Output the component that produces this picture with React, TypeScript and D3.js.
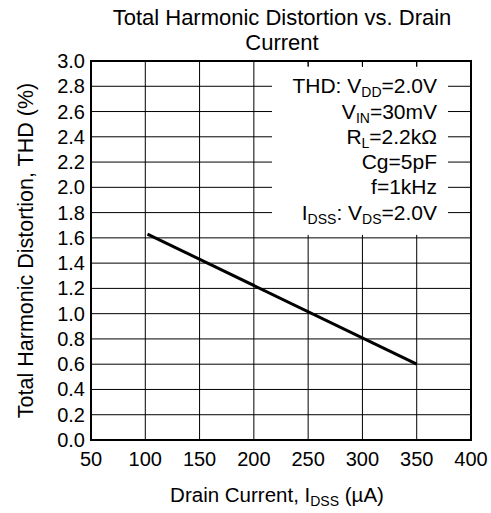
import React, { useEffect, useRef } from "react";
import * as d3 from "d3";

// THD vs drain current
const xTicks = [50, 100, 150, 200, 250, 300, 350, 400];
const yTicks = [0, 0.2, 0.4, 0.6, 0.8, 1.0, 1.2, 1.4, 1.6, 1.8, 2.0, 2.2, 2.4, 2.6, 2.8, 3.0];
const drainCurrent = [102, 350];
const thd = [1.63, 0.6];
const conditions = [
  [["THD: V", ""], ["DD", "sub"], ["=2.0V", ""]],
  [["V", ""], ["IN", "sub"], ["=30mV", ""]],
  [["R", ""], ["L", "sub"], ["=2.2kΩ", ""]],
  [["Cg=5pF", ""]],
  [["f=1kHz", ""]],
  [["I", ""], ["DSS", "sub"], [": V", ""], ["DS", "sub"], ["=2.0V", ""]],
];
const conditionLevels = [2.8, 2.6, 2.4, 2.2, 2.0, 1.8];

const W = 491;
const H = 513;
const margin = { top: 61, right: 20, bottom: 73, left: 91 };

const App = () => {
  const ref = useRef<SVGSVGElement>(null);

  useEffect(() => {
    const svg = d3.select(ref.current);
    svg.selectAll("*").remove();
    const innerW = W - margin.left - margin.right;
    const innerH = H - margin.top - margin.bottom;
    const font = "'Liberation Sans', Arial, sans-serif";

    const x = d3.scaleLinear().domain([50, 400]).range([0, innerW]);
    const y = d3.scaleLinear().domain([0, 3]).range([innerH, 0]);

    const g = svg.append("g").attr("transform", `translate(${margin.left},${margin.top})`);

    // grid
    g.selectAll(".vgrid").data(xTicks.slice(1, -1)).join("line")
      .attr("x1", d => x(d)).attr("x2", d => x(d))
      .attr("y1", 0).attr("y2", innerH)
      .attr("stroke", "#000").attr("stroke-width", 1);
    g.selectAll(".hgrid").data(yTicks.slice(1, -1)).join("line")
      .attr("x1", 0).attr("x2", innerW)
      .attr("y1", d => y(d)).attr("y2", d => y(d))
      .attr("stroke", "#000").attr("stroke-width", 1);

    // white box behind the test conditions
    g.append("rect")
      .attr("x", 181).attr("y", 5)
      .attr("width", 176).attr("height", y(1.6) - 8)
      .attr("fill", "#fff");

    // border
    g.append("rect")
      .attr("width", innerW).attr("height", innerH)
      .attr("fill", "none").attr("stroke", "#000").attr("stroke-width", 2);

    // small ticks at top inside the white box
    g.selectAll(".topTick").data([250, 300, 350]).join("line")
      .attr("x1", d => x(d)).attr("x2", d => x(d))
      .attr("y1", 0).attr("y2", 6)
      .attr("stroke", "#000").attr("stroke-width", 1);

    // data line
    const line = d3.line<number>().x((d, i) => x(drainCurrent[i])).y(d => y(d));
    g.append("path").datum(thd).attr("d", line)
      .attr("fill", "none").attr("stroke", "#000").attr("stroke-width", 3);

    // tick labels
    g.selectAll(".xl").data(xTicks).join("text")
      .attr("x", d => x(d)).attr("y", innerH + 26)
      .attr("text-anchor", "middle")
      .style("font-family", font).style("font-size", "20px")
      .text(d => d);
    g.selectAll(".yl").data(yTicks).join("text")
      .attr("x", -6).attr("y", d => y(d) + 7)
      .attr("text-anchor", "end")
      .style("font-family", font).style("font-size", "20px")
      .text(d => d.toFixed(1));

    // conditions
    conditions.forEach((parts, i) => {
      const t = g.append("text")
        .attr("x", 346).attr("y", y(conditionLevels[i]) + 7)
        .attr("text-anchor", "end")
        .style("font-family", font).style("font-size", "21px");
      parts.forEach(([s, kind], j) => {
        const prev = j > 0 ? parts[j - 1][1] : "";
        const ts = t.append("tspan").text(s);
        if (kind === "sub") ts.attr("dy", 4).style("font-size", "14px");
        else if (prev === "sub") ts.attr("dy", -4);
      });
    });

    // titles
    svg.append("text").attr("x", 282).attr("y", 25)
      .attr("text-anchor", "middle")
      .style("font-family", font).style("font-size", "22px")
      .text("Total Harmonic Distortion vs. Drain");
    svg.append("text").attr("x", 282).attr("y", 50)
      .attr("text-anchor", "middle")
      .style("font-family", font).style("font-size", "22px")
      .text("Current");

    const xt = svg.append("text").attr("x", 277).attr("y", 502)
      .attr("text-anchor", "middle")
      .style("font-family", font).style("font-size", "20.5px");
    xt.append("tspan").text("Drain Current, I");
    xt.append("tspan").text("DSS").attr("dy", 4).style("font-size", "14px");
    xt.append("tspan").text(" (µA)").attr("dy", -4);

    svg.append("text")
      .attr("transform", `translate(33,${margin.top + innerH / 2}) rotate(-90)`)
      .attr("text-anchor", "middle")
      .style("font-family", font).style("font-size", "21.5px")
      .text("Total Harmonic Distortion, THD (%)");
  }, []);

  return (
    <svg ref={ref} width={W} height={H}
      style={{ position: "absolute", left: 0, top: 0, background: "#fff" }} />
  );
};

export default App;
